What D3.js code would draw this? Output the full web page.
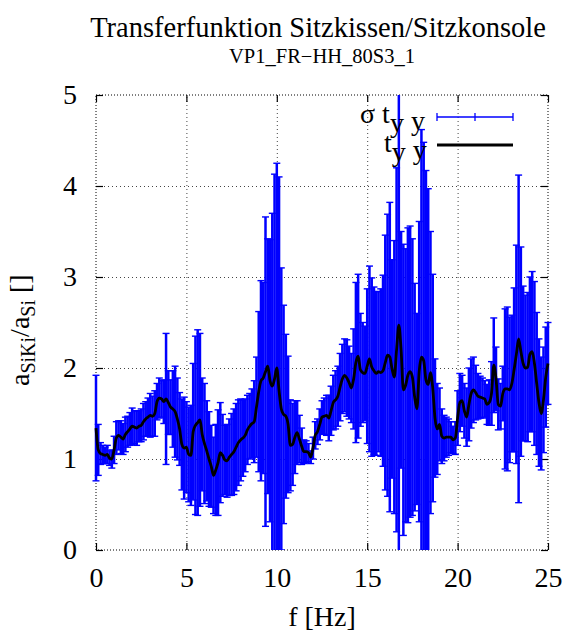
<!DOCTYPE html>
<html>
<head>
<meta charset="utf-8">
<script src="https://cdn.jsdelivr.net/npm/d3@7.9.0/dist/d3.min.js"></script>
<style>
  body { margin: 0; background: #fff; }
  svg { display: block; font-family: "Liberation Serif", "DejaVu Serif", serif; }
  .grid line { stroke: #444; stroke-dasharray: 1,3; stroke-width: 1; }
  .ticks line { stroke: #000; stroke-width: 1.2; }
  .ticks text { font-family: "Liberation Serif", serif; font-size: 28px; fill: #000; }
</style>
</head>
<body>
<div id="chart"></div>
<script>
/* ---------------- DATA ---------------- */

const fStep = 0.125; // Hz between spectral lines

// mean transfer t_yy, one value per spectral line 0 .. 25 Hz
const meanT = [
  1.34, 1.10, 1.06, 1.05, 1.04, 1.05, 1.01, 1.00, 1.10, 1.23,
  1.26, 1.24, 1.22, 1.27, 1.30, 1.33, 1.36, 1.35, 1.34, 1.36,
  1.37, 1.41, 1.44, 1.46, 1.48, 1.47, 1.50, 1.63, 1.67, 1.66,
  1.63, 1.66, 1.62, 1.57, 1.55, 1.52, 1.44, 1.33, 1.16, 1.12,
  1.13, 1.05, 1.04, 1.30, 1.37, 1.40, 1.43, 1.27, 1.17, 1.09,
  1.00, 0.92, 0.82, 0.88, 0.96, 1.07, 1.04, 0.99, 0.98, 1.02,
  1.05, 1.08, 1.13, 1.18, 1.21, 1.23, 1.26, 1.32, 1.36, 1.39,
  1.41, 1.57, 1.74, 1.86, 1.89, 1.96, 2.02, 1.86, 1.80, 1.88,
  2.00, 1.75, 1.55, 1.49, 1.47, 1.38, 1.15, 1.16, 1.24, 1.29,
  1.22, 1.14, 1.08, 1.08, 1.07, 1.02, 1.12, 1.26, 1.30, 1.38,
  1.46, 1.47, 1.48, 1.45, 1.53, 1.62, 1.65, 1.69, 1.79, 1.88,
  1.92, 1.89, 1.84, 1.78, 1.88, 2.06, 2.13, 1.98, 1.95, 1.94,
  2.02, 2.10, 2.01, 1.97, 1.94, 1.96, 1.95, 1.97, 2.06, 2.14,
  2.12, 1.99, 1.90, 2.20, 2.47, 2.20, 1.76, 1.81, 1.92, 1.96,
  1.90, 1.68, 1.55, 1.96, 2.12, 2.08, 1.87, 1.82, 1.95, 1.78,
  1.45, 1.33, 1.38, 1.25, 1.23, 1.24, 1.24, 1.24, 1.21, 1.23,
  1.45, 1.62, 1.64, 1.53, 1.46, 1.60, 1.72, 1.76, 1.73, 1.69,
  1.68, 1.67, 1.66, 1.60, 1.62, 1.72, 2.03, 1.88, 1.60, 1.58,
  1.72, 1.77, 1.77, 1.76, 1.83, 1.98, 2.15, 2.32, 2.18, 2.05,
  2.00, 2.01, 2.15, 2.18, 2.05, 1.83, 1.62, 1.50, 1.65, 1.90,
  2.05
];

// standard deviation sigma t_yy for the same lines
const sigmaT = [
  0.58, 0.28, 0.12, 0.10, 0.09, 0.10, 0.08, 0.10, 0.15, 0.18,
  0.16, 0.18, 0.17, 0.19, 0.17, 0.18, 0.20, 0.18, 0.19, 0.17,
  0.18, 0.20, 0.19, 0.21, 0.24, 0.22, 0.25, 0.20, 0.22, 0.20,
  0.24, 0.72, 0.35, 0.30, 0.42, 0.50, 0.45, 0.40, 0.50, 0.56,
  0.50, 0.52, 0.55, 0.75, 0.98, 1.02, 0.95, 0.62, 0.66, 0.55,
  0.52, 0.45, 0.42, 0.50, 0.58, 0.55, 0.45, 0.38, 0.40, 0.42,
  0.45, 0.47, 0.48, 0.47, 0.45, 0.42, 0.40, 0.38, 0.36, 0.38,
  0.45, 0.55, 0.88, 1.10, 1.05, 1.70, 1.40, 1.55, 1.90, 2.25,
  2.25, 2.35, 1.55, 1.20, 0.90, 0.75, 0.50, 0.45, 0.40, 0.35,
  0.26, 0.20, 0.13, 0.12, 0.10, 0.07, 0.12, 0.15, 0.14, 0.17,
  0.18, 0.20, 0.22, 0.25, 0.27, 0.30, 0.32, 0.33, 0.37, 0.38,
  0.40, 0.42, 0.40, 0.38, 0.55, 0.88, 0.90, 0.62, 0.55, 0.52,
  0.85, 1.02, 0.98, 0.92, 0.90, 0.88, 0.92, 1.05, 1.40, 1.55,
  1.70, 1.20, 1.50, 2.00, 2.75, 1.30, 1.60, 1.50, 1.62, 1.60,
  1.52, 1.25, 1.05, 1.65, 2.50, 2.40, 2.30, 2.15, 1.55, 1.25,
  0.65, 0.50, 0.40, 0.30, 0.25, 0.22, 0.20, 0.17, 0.15, 0.18,
  0.30, 0.32, 0.28, 0.30, 0.32, 0.40, 0.38, 0.36, 0.30, 0.25,
  0.23, 0.22, 0.20, 0.22, 0.25, 0.35, 0.52, 0.35, 0.28, 0.25,
  0.30, 0.88, 0.90, 0.80, 0.75, 0.90, 1.20, 1.80, 1.15, 0.85,
  0.80, 0.82, 0.85, 0.88, 0.90, 0.78, 0.70, 0.62, 0.58, 0.55,
  0.45
];

const xTicks = [0, 5, 10, 15, 20, 25];
const yTicks = [0, 1, 2, 3, 4, 5];

const points = meanT.map((m, i) => ({ f: i * fStep, m: m, s: sigmaT[i] }));

/* ---------------- LAYOUT ---------------- */

const width = 567;
const height = 633;
const plot = { left: 96, right: 548, top: 95, bottom: 550 };

const svg = d3.select("#chart")
  .append("svg")
  .attr("width", width)
  .attr("height", height);

const x = d3.scaleLinear().domain([0, 25]).range([plot.left, plot.right]);
const y = d3.scaleLinear().domain([0, 5]).range([plot.bottom, plot.top]);

/* ---------------- GRID ---------------- */

svg.append("g")
  .attr("class", "grid")
  .attr("transform", `translate(0,${plot.bottom})`)
  .call(d3.axisBottom(x).tickValues(xTicks.slice(1, -1)).tickFormat("")
    .tickSize(-(plot.bottom - plot.top)))
  .call(g => g.select(".domain").remove());

svg.append("g")
  .attr("class", "grid")
  .attr("transform", `translate(${plot.left},0)`)
  .call(d3.axisLeft(y).tickValues(yTicks.slice(1, -1)).tickFormat("")
    .tickSize(-(plot.right - plot.left)))
  .call(g => g.select(".domain").remove());

// dotted frame
svg.append("rect")
  .attr("x", plot.left)
  .attr("y", plot.top)
  .attr("width", plot.right - plot.left)
  .attr("height", plot.bottom - plot.top)
  .attr("fill", "none")
  .attr("stroke", "#000")
  .attr("stroke-width", 1)
  .attr("stroke-dasharray", "1,2");

/* ---------------- AXES ---------------- */

const fmt = d3.format("d");

svg.append("g")
  .attr("class", "ticks")
  .attr("transform", `translate(0,${plot.bottom})`)
  .call(d3.axisBottom(x).tickValues(xTicks).tickFormat(fmt).tickSize(-7).tickPadding(17))
  .call(g => g.select(".domain").remove());

svg.append("g")
  .attr("class", "ticks")
  .attr("transform", `translate(0,${plot.top})`)
  .call(d3.axisTop(x).tickValues(xTicks).tickSize(-7).tickFormat(""))
  .call(g => g.select(".domain").remove());

svg.append("g")
  .attr("class", "ticks")
  .attr("transform", `translate(${plot.left},0)`)
  .call(d3.axisLeft(y).tickValues(yTicks).tickFormat(fmt).tickSize(-7).tickPadding(19))
  .call(g => g.select(".domain").remove());

svg.append("g")
  .attr("class", "ticks")
  .attr("transform", `translate(${plot.right},0)`)
  .call(d3.axisRight(y).tickValues(yTicks).tickSize(-7).tickFormat(""))
  .call(g => g.select(".domain").remove());

/* ---------------- ERROR BARS + MEAN ---------------- */

svg.append("clipPath")
  .attr("id", "clip")
  .append("rect")
  .attr("x", plot.left - 4)
  .attr("y", plot.top)
  .attr("width", plot.right - plot.left + 8)
  .attr("height", plot.bottom - plot.top);

const blue = "#0000ff";
const cap = 3.5;

const bars = svg.append("g")
  .attr("clip-path", "url(#clip)")
  .attr("stroke", blue)
  .attr("stroke-width", 2.5);

const bar = bars.selectAll("g")
  .data(points)
  .join("g");

bar.append("line")
  .attr("x1", d => x(d.f)).attr("x2", d => x(d.f))
  .attr("y1", d => y(d.m - d.s)).attr("y2", d => y(d.m + d.s));

bar.append("line")
  .attr("stroke-width", 1.4)
  .attr("x1", d => x(d.f) - cap).attr("x2", d => x(d.f) + cap)
  .attr("y1", d => y(d.m + d.s)).attr("y2", d => y(d.m + d.s));

bar.append("line")
  .attr("stroke-width", 1.4)
  .attr("x1", d => x(d.f) - cap).attr("x2", d => x(d.f) + cap)
  .attr("y1", d => y(d.m - d.s)).attr("y2", d => y(d.m - d.s));

const line = d3.line()
  .x(d => x(d.f))
  .y(d => y(d.m))
  .curve(d3.curveMonotoneX);

svg.append("path")
  .datum(points)
  .attr("clip-path", "url(#clip)")
  .attr("d", line)
  .attr("fill", "none")
  .attr("stroke", "#000")
  .attr("stroke-width", 2.8)
  .attr("stroke-linejoin", "round");

/* ---------------- LEGEND ---------------- */

const legend = svg.append("g").attr("font-size", 28);

const l1 = legend.append("text").attr("x", 360).attr("y", 123);
l1.append("tspan").text("σ t");
l1.append("tspan").attr("dy", 9).text("y");
l1.append("tspan").attr("dy", -2).text(" y");

const l2 = legend.append("text").attr("x", 384).attr("y", 152);
l2.append("tspan").text("t");
l2.append("tspan").attr("dy", 9).text("y");
l2.append("tspan").attr("dy", -2).text(" y");

const sample = legend.append("g").attr("stroke", blue).attr("stroke-width", 1.3);
sample.append("line").attr("x1", 437).attr("x2", 513).attr("y1", 117).attr("y2", 117);
[437, 475, 513].forEach(px => {
  sample.append("line").attr("x1", px).attr("x2", px).attr("y1", 113).attr("y2", 121);
});

legend.append("line")
  .attr("x1", 437).attr("x2", 513).attr("y1", 145).attr("y2", 145)
  .attr("stroke", "#000").attr("stroke-width", 3);

/* ---------------- TITLES ---------------- */

svg.append("text")
  .attr("x", 318).attr("y", 37)
  .attr("text-anchor", "middle")
  .attr("font-size", 28.5)
  .text("Transferfunktion Sitzkissen/Sitzkonsole");

svg.append("text")
  .attr("x", 322).attr("y", 63)
  .attr("text-anchor", "middle")
  .attr("font-size", 20.5)
  .text("VP1_FR−HH_80S3_1");

svg.append("text")
  .attr("x", 322).attr("y", 626)
  .attr("text-anchor", "middle")
  .attr("font-size", 28)
  .text("f [Hz]");

const yl = svg.append("text")
  .attr("transform", "translate(29,386) rotate(-90)")
  .attr("font-size", 28);
yl.append("tspan").text("a");
yl.append("tspan").attr("dy", 6).attr("font-size", 20).text("SiKi");
yl.append("tspan").attr("dy", -6).text("/a");
yl.append("tspan").attr("dy", 6).attr("font-size", 20).text("Si");
yl.append("tspan").attr("dy", -6).text(" []");
</script>
</body>
</html>
